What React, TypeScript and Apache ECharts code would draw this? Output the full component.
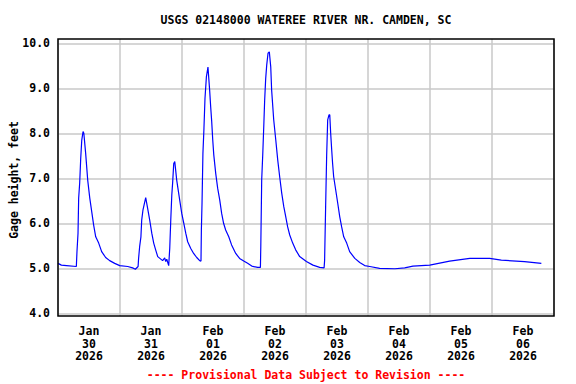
import React, { useEffect, useRef } from "react";
import * as echarts from "echarts";

// Hours since Jan 30 2026 00:00
const hours = [
  0, 1.3, 3.3, 7.1, 7.35, 7.75, 8.0, 8.4, 8.8, 9.2, 9.7, 10.0, 10.7, 11.5, 12.3, 13.05, 13.8, 14.6,
  15.75, 16.9, 18.45, 20.0, 21.95, 23.9, 27.0, 28.9, 29.95, 31.0, 31.2, 31.6, 32.1, 32.4, 32.9, 33.95,
  34.7, 35.5, 36.3, 37.05, 37.8, 38.6, 40.5, 41.3, 41.7, 42.1, 42.85, 43.25, 43.65, 44.05, 44.4, 44.8,
  45.2, 45.95, 47.1, 47.9, 48.7, 49.45, 50.2, 51.4, 52.5, 53.7, 54.85, 55.35, 55.5, 55.75, 56.1, 56.5,
  56.9, 57.45, 58.05, 58.7, 59.1, 59.5, 59.9, 60.3, 61.05, 61.8, 62.6, 63.35, 64.1, 64.9, 66.1, 67.2,
  68.8, 70.3, 71.9, 73.4, 75.0, 77.3, 78.35, 78.5, 78.85, 79.25, 79.65, 80.0, 80.4, 80.8, 81.3, 81.8,
  82.35, 82.7, 83.5, 84.3, 85.05, 85.8, 86.6, 87.4, 88.15, 88.9, 89.7, 90.85, 92.0, 93.55, 96.15, 98.7,
  101.3, 103.0, 103.2, 103.6, 104.0, 104.4, 104.9, 105.2, 105.55, 105.95, 106.3, 106.7, 107.5, 108.3,
  109.05, 109.8, 110.6, 111.75, 112.9, 114.9, 116.8, 118.7, 120.7, 124.5, 130.4, 134.2, 137.4, 143.9,
  151.6, 159.4, 167.1, 171.6, 180.6, 187.1,
];

// Gage height, feet
const gage = [
  5.11, 5.07, 5.06, 5.04, 5.38, 5.78, 6.56, 6.9, 7.45, 7.85, 8.04, 8.0, 7.56, 6.96, 6.56, 6.26, 5.96, 5.7,
  5.56, 5.37, 5.24, 5.17, 5.11, 5.06, 5.04, 5.01, 4.98, 5.04, 5.22, 5.48, 5.7, 6.07, 6.3, 6.57,
  6.33, 6.07, 5.78, 5.56, 5.41, 5.26, 5.17, 5.23, 5.15, 5.2, 5.06, 5.44, 6.07, 6.63, 6.92, 7.33,
  7.37, 6.96, 6.52, 6.22, 6.0, 5.78, 5.59, 5.44, 5.33, 5.24, 5.17, 5.16, 5.85, 6.44, 7.56, 8.11,
  8.78, 9.26, 9.47, 8.96, 8.59, 8.26, 7.85, 7.52, 7.11, 6.78, 6.52, 6.22, 6.0, 5.85, 5.7, 5.52,
  5.33, 5.22, 5.16, 5.11, 5.05, 5.02, 5.02, 5.48, 6.96, 7.52, 8.15, 8.74, 9.22, 9.52, 9.78, 9.81,
  9.48, 8.96, 8.3, 7.85, 7.41, 7.04, 6.67, 6.37, 6.15, 5.92, 5.74, 5.56, 5.41, 5.26, 5.15, 5.07,
  5.02, 5.01, 5.17, 6.37, 7.52, 8.3, 8.41, 8.41, 8.0, 7.63, 7.33, 7.04, 6.74, 6.44,
  6.15, 5.92, 5.7, 5.56, 5.37, 5.22, 5.13, 5.06, 5.04, 5.0, 4.99, 5.01, 5.05, 5.07,
  5.16, 5.22, 5.22, 5.18, 5.15, 5.11,
];

const dayLabels = [
  "Jan\n30\n2026",
  "Jan\n31\n2026",
  "Feb\n01\n2026",
  "Feb\n02\n2026",
  "Feb\n03\n2026",
  "Feb\n04\n2026",
  "Feb\n05\n2026",
  "Feb\n06\n2026",
];

const titleText = "USGS 02148000 WATEREE RIVER NR. CAMDEN, SC";
const yAxisTitle = "Gage height, feet";
const footerText = "---- Provisional Data Subject to Revision ----";

const FONT = "'DejaVu Sans Mono', 'Liberation Mono', monospace";
const GRID_COLOR = "#c8c8c8";

export default function App() {
  const ref = useRef<HTMLDivElement>(null);

  useEffect(() => {
    if (!ref.current) return;
    const chart = echarts.init(ref.current, null, { renderer: "svg" });
    const data = hours.map((h, i) => [h, gage[i]]);
    chart.setOption({
      animation: false,
      backgroundColor: "#ffffff",
      textStyle: { fontFamily: FONT },
      grid: [
        // frame grid: day gridlines and date labels
        { left: 58, top: 39, width: 496, height: 277, show: false },
        // data grid: 4.0 .. 10.0
        { left: 58, top: 43.3, width: 496, height: 270, show: false },
      ],
      xAxis: [
        {
          gridIndex: 0,
          type: "value",
          min: 0,
          max: 192,
          interval: 12,
          axisLine: { show: false },
          axisTick: { show: false },
          splitLine: { show: false },
          axisLabel: {
            show: true,
            margin: 9,
            fontFamily: FONT,
            fontWeight: "bold",
            fontSize: 11.5,
            lineHeight: 12.5,
            color: "#000000",
            showMinLabel: false,
            showMaxLabel: false,
            formatter: (v: number) => {
              const r = Math.round(v);
              if (r % 24 === 12) {
                const idx = (r - 12) / 24;
                return dayLabels[idx] ?? "";
              }
              return "";
            },
          },
        },
        {
          gridIndex: 0,
          type: "value",
          min: 0,
          max: 192,
          interval: 24,
          position: "bottom",
          axisLine: { show: false },
          axisTick: { show: false },
          axisLabel: { show: false },
          splitLine: { show: true, lineStyle: { color: GRID_COLOR, width: 1.5 } },
        },
        {
          gridIndex: 1,
          type: "value",
          min: 0,
          max: 192,
          show: false,
        },
      ],
      yAxis: [
        {
          gridIndex: 0,
          type: "value",
          min: 0,
          max: 1,
          show: false,
        },
        {
          gridIndex: 1,
          type: "value",
          min: 4,
          max: 10,
          interval: 1,
          axisLine: { show: false },
          axisTick: { show: false },
          splitLine: {
            show: true,
            lineStyle: { color: GRID_COLOR, width: 1.5 },
          },
          axisLabel: {
            margin: 8,
            fontFamily: FONT,
            fontWeight: "bold",
            fontSize: 11.5,
            color: "#000000",
            formatter: (v: number) => v.toFixed(1),
          },
        },
      ],
      graphic: [
        {
          type: "rect",
          z: 100,
          shape: { x: 58, y: 39, width: 496, height: 277 },
          style: { fill: "none", stroke: "#000000", lineWidth: 1.5 },
          silent: true,
        },
        {
          type: "text",
          x: 306,
          y: 20,
          style: {
            text: titleText,
            fill: "#000000",
            font: `bold 11.5px ${FONT}`,
            align: "center",
            verticalAlign: "middle",
          },
        },
        {
          type: "text",
          x: 14,
          y: 180,
          rotation: Math.PI / 2,
          style: {
            text: yAxisTitle,
            fill: "#000000",
            font: `bold 11.5px ${FONT}`,
            align: "center",
            verticalAlign: "middle",
          },
        },
        {
          type: "text",
          x: 306,
          y: 375,
          style: {
            text: footerText,
            fill: "#ff0000",
            font: `bold 11.5px ${FONT}`,
            align: "center",
            verticalAlign: "middle",
          },
        },
      ],
      series: [
        {
          type: "line",
          xAxisIndex: 2,
          yAxisIndex: 1,
          data,
          showSymbol: false,
          symbol: "none",
          smooth: false,
          lineStyle: { color: "#0000ff", width: 1.2 },
          silent: true,
        },
      ],
    });
    return () => chart.dispose();
  }, []);

  return (
    <div
      ref={ref}
      style={{
        position: "fixed",
        left: 0,
        top: 0,
        width: 576,
        height: 384,
        background: "#ffffff",
      }}
    />
  );
}
